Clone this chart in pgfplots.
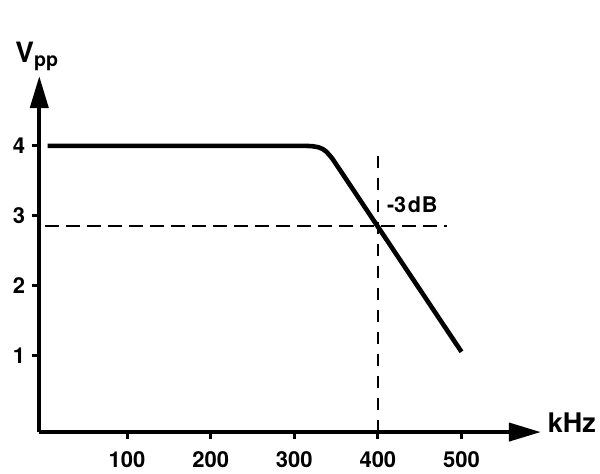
\documentclass[border=0pt]{standalone}
\usepackage{fontspec}
\setmainfont{TeX Gyre Heros}
\usepackage{pgfplots}
\pgfplotsset{compat=1.18}
\usetikzlibrary{arrows.meta}
\begin{document}
\begin{tikzpicture}
\begin{axis}[
 scale only axis, width=250.8pt, height=178pt,
 xmin=-5, xmax=595, ymin=-0.1, ymax=5.0,
 axis lines=left,
 axis line style={line width=2pt, -{Triangle[length=16pt,width=9pt]}},
 xtick={100,200,300,400,500}, ytick={1,2,3,4},
 tick align=outside, major tick length=3.5pt,
 tick style={line width=1.5pt, black},
 ticklabel style={font=\bfseries\fontsize{11}{13}\selectfont},
 /pgf/number format/assume math mode=true,
 xticklabel style={yshift=-2.5pt},
 clip=false,
]
\addplot[line width=2.3pt, line join=round, black] coordinates {(5,4)(314,4)(322,3.995)(329,3.98)(334,3.955)(338,3.92)(342,3.87)(346,3.81)(500,1.05)};
\addplot[black, line width=0.8pt, dash pattern=on 7pt off 3.5pt] coordinates {(2,2.85)(483,2.85)};
\addplot[black, line width=0.8pt, dash pattern=on 6pt off 5pt] coordinates {(400,-0.1)(400,3.94)};
\node[anchor=base west, inner sep=0, font=\bfseries\fontsize{10.8}{12}\selectfont] at (axis cs:410.5,3.04) {-3\kern0.8pt d\kern0.4pt B};
\node[anchor=base west, inner sep=0, font=\bfseries\fontsize{13.5}{15}\selectfont] at (axis cs:603,-0.1) {kHz};
\node[anchor=base west, inner sep=0, font=\bfseries\fontsize{14}{16}\selectfont] at (axis cs:-34,5.2) {V\textsubscript{pp}};
\path (axis cs:-52,-0.587) rectangle (axis cs:665.7,6.09);
\end{axis}
\end{tikzpicture}
\end{document}
